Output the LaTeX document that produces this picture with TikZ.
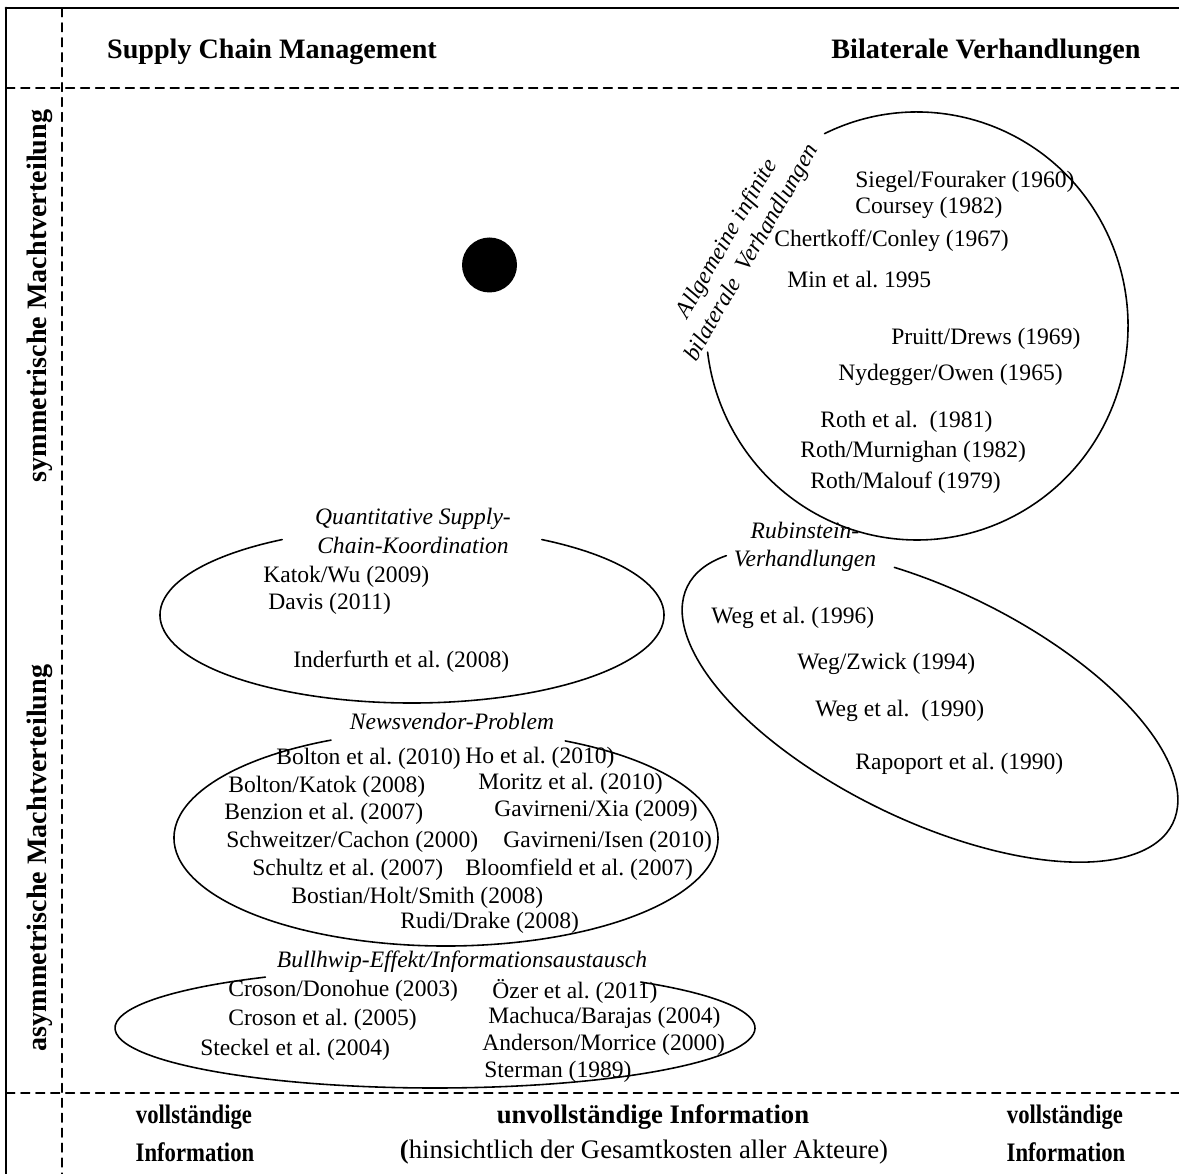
\documentclass[tikz,border=0pt]{standalone}
\usepackage{fontspec}
\setmainfont{Liberation Serif}
\frenchspacing

\begin{document}
\begin{tikzpicture}[line cap=round,line join=round,x=1.0cm,y=1.0cm,
  entry/.style={anchor=west,inner sep=0pt,font=\fontsize{13.4}{16.2}\selectfont},
  topic/.style={inner sep=0pt,align=center,font=\fontsize{13.4}{16.3}\selectfont\itshape},
  heading/.style={inner sep=0pt,font=\fontsize{16}{19}\selectfont\bfseries},
  infotext/.style={inner sep=0pt,font=\fontsize{15.2}{18}\selectfont},
  grid line/.style={line width=0.8pt,dash pattern=on 5pt off 3.5pt},
  bubble/.style={line width=0.9pt}]
\useasboundingbox (0,0) rectangle (23.58,-23.48);
% frame and grid
\draw [line width=1.6pt] (0.12,-0.16)-- (23.58,-0.16);
\draw [line width=1.6pt] (0.12,-0.16)-- (0.12,-23.48);
\draw [grid line] (1.24,-0.16)-- (1.24,-23.48);
\draw [grid line] (0.12,-1.76)-- (23.58,-1.76);
\draw [grid line] (0.12,-21.86)-- (23.58,-21.86);
% headings
\node [heading] (scm) at (5.44,-1.04) {Supply Chain Management};
\node [heading] (bilat) at (19.72,-1.04) {Bilaterale Verhandlungen};
\node [heading,rotate=90] (sym) at (0.80,-5.92) {symmetrische Machtverteilung};
\node [heading,rotate=90] (asym) at (0.80,-17.16) {asymmetrische Machtverteilung};
\node [infotext,font=\fontsize{15.2}{18}\selectfont\bfseries] (vollL) at (3.88,-22.34) {\scalebox{0.85}[1]{vollständige}};
\node [infotext,font=\fontsize{15.2}{18}\selectfont\bfseries] (infoL) at (3.90,-23.04) {\scalebox{0.85}[1]{Information}};
\node [infotext,font=\fontsize{15.2}{18}\selectfont\bfseries] (unvoll) at (13.06,-22.34) {unvollständige Information};
\node [infotext] (kosten) at (12.88,-23.04) {\textbf{(}hinsichtlich der Gesamtkosten aller Akteure)};
\node [infotext,font=\fontsize{15.2}{18}\selectfont\bfseries] (vollR) at (21.30,-22.34) {\scalebox{0.85}[1]{vollständige}};
\node [infotext,font=\fontsize{15.2}{18}\selectfont\bfseries] (infoR) at (21.32,-23.04) {\scalebox{0.85}[1]{Information}};
% dot
\fill (9.79,-5.30) circle (0.55);
% allgemeine infinite verhandlungen
\draw [bubble] (18.34,-6.52) ++(116:4.22 and 4.28) arc (116:-173:4.22 and 4.28);
\node [topic,rotate=60] (allg) at (14.80,-4.92) {Allgemeine infinite\\bilaterale\ \ Verhandlungen};
\node [entry] (siegel) at (17.10,-3.64) {Siegel/Fouraker (1960)};
\node [entry] (coursey) at (17.10,-4.16) {Coursey (1982)};
\node [entry] (chert) at (15.48,-4.82) {Chertkoff/Conley (1967)};
\node [entry] (min) at (15.74,-5.60) {Min et al. 1995};
\node [entry] (pruitt) at (17.82,-6.78) {Pruitt/Drews (1969)};
\node [entry] (nyd) at (16.76,-7.50) {Nydegger/Owen (1965)};
\node [entry] (roth) at (16.40,-8.44) {Roth et al.\ \ (1981)};
\node [entry] (rothmur) at (16.00,-9.04) {Roth/Murnighan (1982)};
\node [entry] (rothmal) at (16.20,-9.66) {Roth/Malouf (1979)};
% rubinstein
\draw [bubble,rotate around={-26:(18.6,-14.1)}] (18.6,-14.1) ++(157:5.4 and 2.3) arc (157:470:5.4 and 2.3);
\node [topic] (rub) at (16.10,-10.94) {Rubinstein-\\Verhandlungen};
\node [entry] (weg96) at (14.22,-12.36) {Weg et al. (1996)};
\node [entry] (wegzw) at (15.94,-13.28) {Weg/Zwick (1994)};
\node [entry] (weg90) at (16.30,-14.22) {Weg et al.\ \ (1990)};
\node [entry] (rapo) at (17.10,-15.28) {Rapoport et al. (1990)};
% quantitative koordination
\draw [bubble] (8.24,-12.30) ++(59:5.04 and 1.76) arc (59:-239:5.04 and 1.76);
\node [topic] (quant) at (8.26,-10.62) {Quantitative Supply-\\Chain-Koordination};
\node [entry] (katok) at (5.26,-11.54) {Katok/Wu (2009)};
\node [entry] (davis) at (5.36,-12.08) {Davis (2011)};
\node [entry] (inder) at (5.86,-13.24) {Inderfurth et al. (2008)};
% newsvendor
\draw [bubble] (8.92,-16.76) ++(64:5.44 and 2.16) arc (64:-245:5.44 and 2.16);
\node [topic] (news) at (9.04,-14.42) {Newsvendor-Problem};
\node [entry] (bolton) at (5.52,-15.18) {Bolton et al. (2010)};
\node [entry] (ho) at (9.30,-15.16) {Ho et al. (2010)};
\node [entry] (boltonk) at (4.56,-15.74) {Bolton/Katok (2008)};
\node [entry] (moritz) at (9.56,-15.68) {Moritz et al. (2010)};
\node [entry] (benzion) at (4.48,-16.28) {Benzion et al. (2007)};
\node [entry] (gavxia) at (9.88,-16.22) {Gavirneni/Xia (2009)};
\node [entry] (schw) at (4.52,-16.84) {Schweitzer/Cachon (2000)};
\node [entry] (gavisen) at (10.06,-16.84) {Gavirneni/Isen (2010)};
\node [entry] (schultz) at (5.04,-17.40) {Schultz et al. (2007)};
\node [entry] (bloom) at (9.30,-17.40) {Bloomfield et al. (2007)};
\node [entry] (bostian) at (5.82,-17.96) {Bostian/Holt/Smith (2008)};
\node [entry] (rudi) at (8.00,-18.46) {Rudi/Drake (2008)};
% bullwhip
\draw [bubble] (8.70,-20.56) ++(50:6.40 and 1.20) arc (50:-238:6.40 and 1.20);
\node [topic] (bull) at (9.24,-19.24) {Bullhwip-Effekt/Informationsaustausch};
\node [entry] (crosond) at (4.56,-19.82) {Croson/Donohue (2003)};
\node [entry] (oezer) at (9.84,-19.82) {Özer et al. (2011)};
\node [entry] (croson) at (4.56,-20.40) {Croson et al. (2005)};
\node [entry] (machuca) at (9.76,-20.36) {Machuca/Barajas (2004)};
\node [entry] (steckel) at (4.00,-21.00) {Steckel et al. (2004)};
\node [entry] (anderson) at (9.64,-20.90) {Anderson/Morrice (2000)};
\node [entry] (sterman) at (9.68,-21.44) {Sterman (1989)};
\end{tikzpicture}
\end{document}
